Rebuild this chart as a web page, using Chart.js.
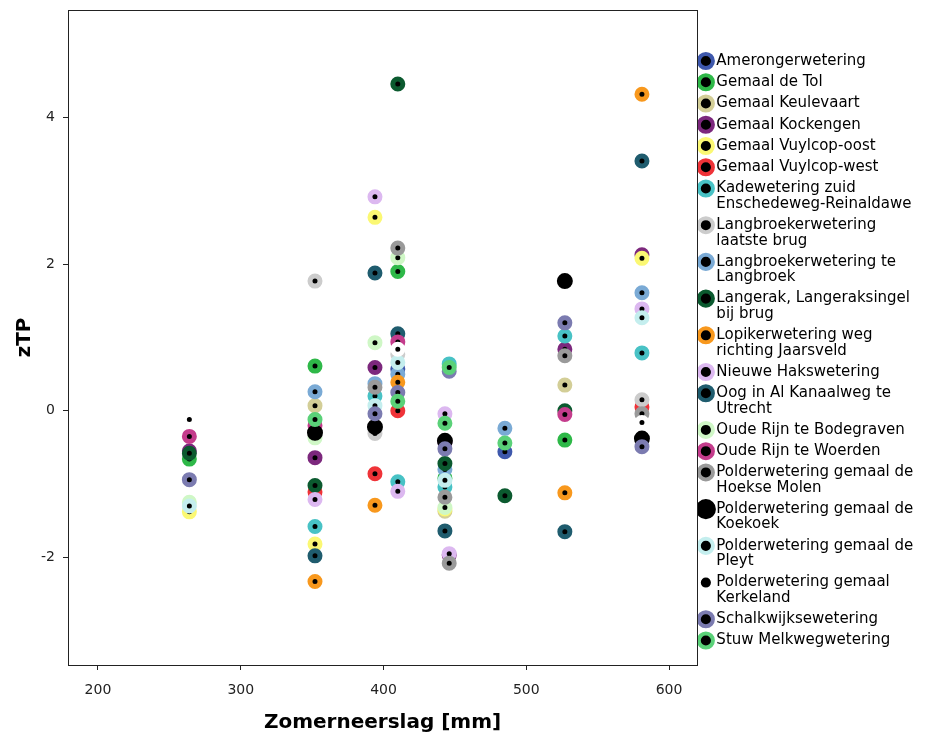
<!DOCTYPE html>
<html><head><meta charset="utf-8">
<script src="https://cdn.jsdelivr.net/npm/chart.js@4"></script>
<style>html,body{margin:0;padding:0;background:#fff}#wrap{width:927px;height:737px}</style>
</head><body><div id="wrap"><canvas id="c" width="927" height="737"></canvas></div>
<script>
// ---- categories / labels ----
const siteNames = [
  'Amerongerwetering','Gemaal de Tol','Gemaal Keulevaart','Gemaal Kockengen','Gemaal Vuylcop-oost',
  'Gemaal Vuylcop-west','Kadewetering zuid Enschedeweg-Reinaldawe','Langbroekerwetering laatste brug',
  'Langbroekerwetering te Langbroek','Langerak, Langeraksingel bij brug','Lopikerwetering weg richting Jaarsveld',
  'Nieuwe Hakswetering','Oog in Al Kanaalweg te Utrecht','Oude Rijn te Bodegraven','Oude Rijn te Woerden',
  'Polderwetering gemaal de Hoekse Molen','Polderwetering gemaal de Koekoek','Polderwetering gemaal de Pleyt',
  'Polderwetering gemaal Kerkeland','Schalkwijksewetering','Stuw Melkwegwetering'
];
const legendLines = [
  ['Amerongerwetering'],['Gemaal de Tol'],['Gemaal Keulevaart'],['Gemaal Kockengen'],['Gemaal Vuylcop-oost'],
  ['Gemaal Vuylcop-west'],['Kadewetering zuid','Enschedeweg-Reinaldawe'],['Langbroekerwetering','laatste brug'],
  ['Langbroekerwetering te','Langbroek'],['Langerak, Langeraksingel','bij brug'],['Lopikerwetering weg','richting Jaarsveld'],
  ['Nieuwe Hakswetering'],['Oog in Al Kanaalweg te','Utrecht'],['Oude Rijn te Bodegraven'],['Oude Rijn te Woerden'],
  ['Polderwetering gemaal de','Hoekse Molen'],['Polderwetering gemaal de','Koekoek'],['Polderwetering gemaal de','Pleyt'],
  ['Polderwetering gemaal','Kerkeland'],['Schalkwijksewetering'],['Stuw Melkwegwetering']
];
const siteColors = [
  '#3e58ac','#2eb848','#d3ce97','#7c287d','#fbf873','#ef3338','#48c2c5','#cccccc','#7aaad5','#0b5a2f',
  '#f8981d','#dcb8f0','#1f5c6e','#cff7c6','#c43c8c','#9a9a9a','#000000','#c4eeee','#ffffff','#7b7bb0','#5ad178'
];
const xTicks = [200, 300, 400, 500, 600];
const yTicks = [-2, 0, 2, 4];

// ---- series values: [Zomerneerslag mm, zTP] ----
const amerongerwetering = [[410,0.57],[485,-0.56]];
const gemaalDeTol = [[264,-0.66],[352,0.61],[410,1.90],[443,-0.92],[527,-0.40]];
const keulevaart = [[352,0.07],[443,-1.37],[527,0.35]];
const kockengen = [[264,-0.55],[352,-0.64],[394,0.59],[443,-0.43],[446,-1.97],[527,0.84],[581,2.13]];
const vuylcopOost = [[264,-1.38],[352,-1.82],[394,2.64],[443,-1.34],[581,2.08]];
const vuylcopWest = [[352,-1.11],[394,-0.86],[410,0.00],[581,0.05]];
const kadewetering = [[352,-1.58],[394,0.20],[410,-0.97],[446,0.64],[443,-1.04],[527,1.02],[581,0.79]];
const langbroekLaatsteBrug = [[352,1.77],[394,-0.31],[410,0.77],[581,0.15]];
const langbroekTeLangbroek = [[352,0.26],[394,0.37],[410,0.50],[443,-0.80],[485,-0.24],[581,1.61]];
const langerak = [[264,-0.58],[352,-1.02],[410,4.46],[443,-0.72],[485,-1.16],[527,0.00]];
const lopikerwetering = [[352,-2.33],[394,-1.29],[410,0.39],[527,-1.12],[581,4.32]];
const nieuweHaks = [[352,-1.21],[394,2.92],[410,-1.10],[443,-0.04],[446,-1.95],[581,1.39]];
const oogInAl = [[352,-1.98],[394,1.88],[410,1.05],[443,-1.64],[527,-1.65],[581,3.41]];
const bodegraven = [[264,-1.25],[352,-0.37],[394,0.93],[410,2.09],[443,-1.32]];
const woerden = [[264,-0.35],[352,-0.20],[410,0.94],[527,-0.05]];
const hoekseMolen = [[394,0.32],[410,2.22],[443,-1.18],[446,-2.08],[527,0.75],[581,-0.04]];
const koekoek = [[352,-0.30],[394,-0.22],[443,-0.41],[527,1.77],[581,-0.38]];
const pleyt = [[264,-1.30],[394,0.07],[410,0.66],[443,-0.95],[581,1.27]];
const kerkeland = [[264,-0.12],[410,0.84],[581,-0.16]];
const schalkwijk = [[264,-0.94],[394,-0.04],[410,0.25],[446,0.54],[443,-0.52],[527,1.20],[581,-0.49]];
const stuwMelkweg = [[352,-0.12],[410,0.13],[446,0.59],[443,-0.17],[485,-0.44]];

const seriesValues = [amerongerwetering,gemaalDeTol,keulevaart,kockengen,vuylcopOost,vuylcopWest,kadewetering,
  langbroekLaatsteBrug,langbroekTeLangbroek,langerak,lopikerwetering,nieuweHaks,oogInAl,bodegraven,woerden,
  hoekseMolen,koekoek,pleyt,kerkeland,schalkwijk,stuwMelkweg];

const KOEKOEK = 16;
const datasets = seriesValues.map((vals, i) => ({
  label: siteNames[i],
  data: vals.map(v => ({x: v[0], y: v[1]})),
  pointStyle: 'circle',
  backgroundColor: '#000',
  borderColor: siteColors[i],
  pointRadius: i === KOEKOEK ? 6 : 5,
  pointBorderWidth: i === KOEKOEK ? 4 : 5,
  borderWidth: i === KOEKOEK ? 6 : 4,
  order: seriesValues.length - i
}));

const framePlugin = {
  id: 'frame',
  afterDatasetsDraw(chart) {
    const {ctx, chartArea: a} = chart;
    ctx.save();
    ctx.strokeStyle = '#222';
    ctx.lineWidth = 1;
    ctx.strokeRect(Math.round(a.left) + 0.5, Math.round(a.top) + 0.5,
      Math.round(a.right - a.left), Math.round(a.bottom - a.top));
    ctx.restore();
  }
};

const tickFont = {family: 'DejaVu Sans', size: 14};
const titleFont = {family: 'DejaVu Sans', size: 20, weight: 'bold'};

new Chart(document.getElementById('c'), {
  type: 'scatter',
  data: {datasets},
  options: {
    responsive: false,
    devicePixelRatio: 1,
    animation: false,
    events: [],
    layout: {padding: {top: 8, right: 3.7, bottom: 0, left: 0}},
    scales: {
      x: {
        type: 'linear', min: 179, max: 619.6,
        afterBuildTicks: s => { s.ticks = xTicks.map(v => ({value: v})); },
        afterFit: s => { s.height = 72; s.paddingLeft = 0; s.paddingRight = 0; },
        ticks: {font: tickFont, color: '#222', padding: 12, maxRotation: 0, autoSkip: false},
        grid: {drawOnChartArea: false, drawTicks: true, tickLength: 5, color: '#222'},
        border: {display: false},
        title: {display: true, text: 'Zomerneerslag [mm]', font: titleFont, color: '#000', padding: {top: 0, bottom: 2}}
      },
      y: {
        type: 'linear', min: -3.47, max: 5.47,
        afterBuildTicks: s => { s.ticks = yTicks.map(v => ({value: v})); },
        afterFit: s => { s.width = 68; s.paddingTop = 0; s.paddingBottom = 0; },
        ticks: {font: tickFont, color: '#222', padding: 8, autoSkip: false},
        grid: {drawOnChartArea: false, drawTicks: true, tickLength: 5, color: '#222'},
        border: {display: false},
        title: {display: true, text: 'zTP', font: titleFont, color: '#000', padding: {top: 13, bottom: 0}}
      }
    },
    plugins: {
      tooltip: {enabled: false},
      legend: {
        position: 'right', align: 'start', fullSize: true,
        title: {display: true, text: ' ', font: {size: 10, lineHeight: 1}, padding: {top: 29.7, bottom: 0}},
        labels: {
          usePointStyle: true, boxWidth: 6, boxHeight: 10, padding: 5.8, color: '#000',
          font: {family: 'DejaVu Sans', size: 15, lineHeight: 1.03},
          generateLabels: chart => {
            const items = Chart.defaults.plugins.legend.labels.generateLabels(chart);
            items.sort((a, b) => a.datasetIndex - b.datasetIndex);
            return items.map(it => Object.assign(it, {text: legendLines[it.datasetIndex], lineWidth: it.datasetIndex === KOEKOEK ? 6 : 4}));
          }
        }
      }
    }
  },
  plugins: [framePlugin]
});
</script></body></html>
